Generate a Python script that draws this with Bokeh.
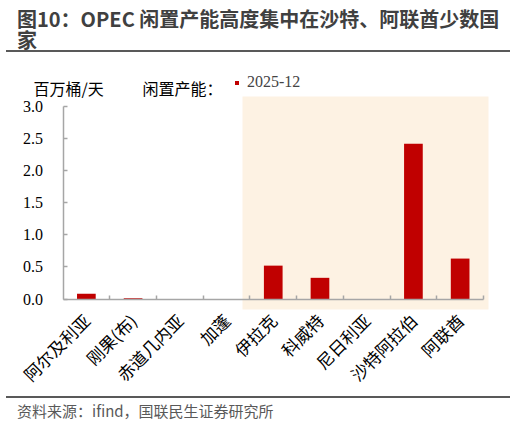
import numpy as np
from bokeh.plotting import figure
from bokeh.layouts import column
from bokeh.models import (Range1d, FixedTicker, BoxAnnotation, Label, Legend,
                          LegendItem, ColumnDataSource, NumeralTickFormatter, Div)
from bokeh.embed import file_html
from bokeh.resources import INLINE

# ---------------- data ----------------
countries = ["阿尔及利亚", "刚果(布)", "赤道几内亚", "加蓬", "伊拉克",
             "科威特", "尼日利亚", "沙特阿拉伯", "阿联酋"]
spare_2025_12 = [0.08, 0.01, 0.0, 0.0, 0.52, 0.33, 0.0, 2.42, 0.63]
y_ticks = [0.0, 0.5, 1.0, 1.5, 2.0, 2.5, 3.0]
series_name = "2025-12"
title_line1 = "图10：OPEC 闲置产能高度集中在沙特、阿联酋少数国"
title_line2 = "家"
unit_text = "百万桶/天"
legend_title = "闲置产能："
source_text = "资料来源：ifind，国联民生证券研究所"

# ---------------- layout (page pixel geometry) ----------------
W = 516
TOP_H = 52          # title block (with rule at its bottom)
FIG_H = 344         # chart block
BOT_H = 28          # source block (with rule at its top)
FIG_TOP = TOP_H
FIG_BOTTOM = TOP_H + FIG_H
PX0, PX9 = 62.5, 483.0     # page x of first / last category boundary
PY0, PY3 = 298.5, 106.0    # page y of value 0 and value 3
n = len(countries)
YMAX = 3.0

def X(px):
    return (px - PX0) / (PX9 - PX0) * n

def Y(py):
    return (PY0 - py) / (PY0 - PY3) * YMAX

CJK = "Noto Sans CJK SC"
SERIF = "Liberation Serif"
RED = "#C00000"
AXIS = "#A6A6A6"
RULE = "#595959"

centers = list(np.arange(n) + 0.5)
src = ColumnDataSource(dict(x=centers, v=spare_2025_12, name=countries))

p = figure(width=W, height=FIG_H, x_range=Range1d(X(0), X(W)),
           y_range=Range1d(Y(FIG_BOTTOM), Y(FIG_TOP)),
           output_backend="svg", toolbar_location=None,
           min_border=0, margin=0)
p.outline_line_color = None
p.xgrid.grid_line_color = None
p.ygrid.grid_line_color = None
p.background_fill_color = "white"
p.border_fill_color = "white"

# shaded region (Middle East)
p.add_layout(BoxAnnotation(left=X(242), right=X(488), top=Y(96), bottom=Y(309),
                           fill_color="#FDF2E3", fill_alpha=1.0, line_color=None,
                           level="underlay"))

r = p.vbar(x="x", top="v", width=0.4, source=src, fill_color=RED,
           line_color=None)

# x axis
xa = p.xaxis[0]
xa.fixed_location = 0
xa.bounds = (0, n)
xa.ticker = FixedTicker(ticks=centers, minor_ticks=list(range(1, n + 1)))
xa.major_label_overrides = {c: name for c, name in zip(centers, countries)}
xa.major_tick_line_color = None
xa.minor_tick_in = 4
xa.minor_tick_out = 0
xa.minor_tick_line_color = AXIS
xa.minor_tick_line_width = 1.5
xa.axis_line_color = AXIS
xa.axis_line_width = 1.5
xa.major_label_orientation = np.pi / 4
xa.major_label_text_font = CJK
xa.major_label_text_font_size = "17px"
xa.major_label_text_color = "black"
xa.major_label_standoff = 12

# y axis
ya = p.yaxis[0]
ya.fixed_location = 0
ya.bounds = (0, YMAX)
ya.ticker = FixedTicker(ticks=y_ticks)
ya.formatter = NumeralTickFormatter(format="0.0")
ya.major_tick_in = 4
ya.major_tick_out = 0
ya.minor_tick_line_color = None
ya.major_tick_line_color = AXIS
ya.major_tick_line_width = 1.5
ya.axis_line_color = AXIS
ya.axis_line_width = 1.5
ya.major_label_text_font = SERIF
ya.major_label_text_font_size = "16px"
ya.major_label_text_color = "black"
ya.major_label_standoff = 20

# legend (location measured from the chart block's bottom-left, in px)
legend = Legend(items=[LegendItem(label=series_name, renderers=[r])],
                location=(234, FIG_BOTTOM - 91), orientation="horizontal",
                glyph_width=5, glyph_height=5, label_standoff=8,
                padding=0, margin=0, spacing=0, border_line_color=None,
                background_fill_alpha=0.0, label_text_font=SERIF,
                label_text_font_size="16px", label_height=16)
p.add_layout(legend)

def add_text(px, py, text, size, font=CJK, color="black"):
    p.add_layout(Label(x=X(px), y=Y(py), text=text, text_font=font,
                       text_font_size=size, text_color=color,
                       text_baseline="middle", text_align="left"))

add_text(33, 87, unit_text, "16px")
add_text(142, 87, legend_title, "16px")

# title block with rule underneath
title_html = (
    '<div style="margin-left:6px;width:504px;height:%dpx;box-sizing:border-box;'
    'border-bottom:2px solid %s;padding:8px 0 0 11px;'
    "font-family:'%s';font-size:20px;font-weight:bold;color:#404040;"
    'line-height:21px;white-space:nowrap;">%s<br>%s</div>'
    % (TOP_H, RULE, CJK, title_line1, title_line2))
title_div = Div(text=title_html, width=W, height=TOP_H, margin=0)

# source block with rule above
source_html = (
    '<div style="margin-left:6px;width:504px;height:%dpx;box-sizing:border-box;'
    'border-top:2px solid %s;padding:3px 0 0 11px;'
    "font-family:'%s';font-size:15px;color:%s;line-height:20px;"
    'white-space:nowrap;">%s</div>'
    % (BOT_H, RULE, CJK, RULE, source_text))
source_div = Div(text=source_html, width=W, height=BOT_H, margin=0)

layout = column(title_div, p, source_div, spacing=0, margin=0)

open("out.html", "w").write(file_html(layout, INLINE))
